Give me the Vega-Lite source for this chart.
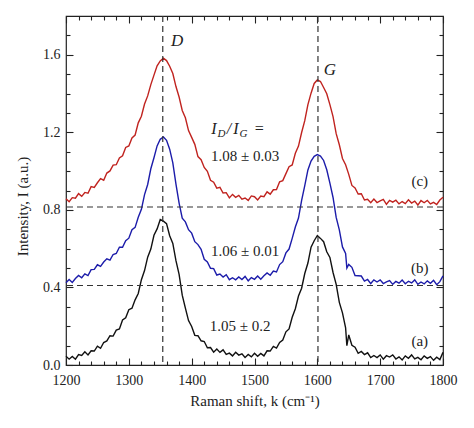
{
"$schema": "https://vega.github.io/schema/vega-lite/v6.json",
"width": 377, "height": 349,
"autosize": {"type": "none"},
"padding": {"left": 66, "top": 16, "right": 31, "bottom": 63},
"background": "white",
"config": {
 "font": "Liberation Serif",
 "view": {"stroke": "#222", "strokeWidth": 1.2},
 "axis": {"labelFont": "Liberation Serif", "labelFontSize": 14, "labelColor": "#222", "titleFont": "Liberation Serif", "titleFontSize": 15, "titleFontWeight": "normal", "titleColor": "#222", "tickColor": "#222", "tickWidth": 1.1, "grid": false, "domain": false, "labelFlush": false}
},
"datasets": {
 "spec": [
{"k":1200,"s":"a","v":0.045},{"k":1205,"s":"a","v":0.030},{"k":1210,"s":"a","v":0.044},{"k":1215,"s":"a","v":0.030},{"k":1220,"s":"a","v":0.054},{"k":1225,"s":"a","v":0.049},{"k":1230,"s":"a","v":0.068},{"k":1235,"s":"a","v":0.052},{"k":1240,"s":"a","v":0.073},{"k":1245,"s":"a","v":0.072},
{"k":1250,"s":"a","v":0.097},{"k":1255,"s":"a","v":0.086},{"k":1260,"s":"a","v":0.116},{"k":1265,"s":"a","v":0.124},{"k":1270,"s":"a","v":0.151},{"k":1275,"s":"a","v":0.149},{"k":1280,"s":"a","v":0.180},{"k":1285,"s":"a","v":0.186},{"k":1290,"s":"a","v":0.232},{"k":1295,"s":"a","v":0.244},
{"k":1300,"s":"a","v":0.285},{"k":1305,"s":"a","v":0.293},{"k":1310,"s":"a","v":0.336},{"k":1315,"s":"a","v":0.369},{"k":1320,"s":"a","v":0.440},{"k":1325,"s":"a","v":0.487},{"k":1330,"s":"a","v":0.556},{"k":1335,"s":"a","v":0.598},{"k":1340,"s":"a","v":0.669},{"k":1345,"s":"a","v":0.702},
{"k":1350,"s":"a","v":0.750},{"k":1355,"s":"a","v":0.742},{"k":1360,"s":"a","v":0.729},{"k":1365,"s":"a","v":0.667},{"k":1370,"s":"a","v":0.627},{"k":1375,"s":"a","v":0.538},{"k":1380,"s":"a","v":0.467},{"k":1385,"s":"a","v":0.360},{"k":1390,"s":"a","v":0.293},{"k":1395,"s":"a","v":0.229},
{"k":1400,"s":"a","v":0.199},{"k":1405,"s":"a","v":0.153},{"k":1410,"s":"a","v":0.151},{"k":1415,"s":"a","v":0.125},{"k":1420,"s":"a","v":0.121},{"k":1425,"s":"a","v":0.089},{"k":1430,"s":"a","v":0.090},{"k":1435,"s":"a","v":0.066},{"k":1440,"s":"a","v":0.082},{"k":1445,"s":"a","v":0.065},
{"k":1450,"s":"a","v":0.078},{"k":1455,"s":"a","v":0.055},{"k":1460,"s":"a","v":0.061},{"k":1465,"s":"a","v":0.047},{"k":1470,"s":"a","v":0.066},{"k":1475,"s":"a","v":0.051},{"k":1480,"s":"a","v":0.058},{"k":1485,"s":"a","v":0.039},{"k":1490,"s":"a","v":0.054},{"k":1495,"s":"a","v":0.042},
{"k":1500,"s":"a","v":0.061},{"k":1505,"s":"a","v":0.045},{"k":1510,"s":"a","v":0.060},{"k":1515,"s":"a","v":0.047},{"k":1520,"s":"a","v":0.073},{"k":1525,"s":"a","v":0.072},{"k":1530,"s":"a","v":0.096},{"k":1535,"s":"a","v":0.087},{"k":1540,"s":"a","v":0.116},{"k":1545,"s":"a","v":0.129},
{"k":1550,"s":"a","v":0.171},{"k":1555,"s":"a","v":0.186},{"k":1560,"s":"a","v":0.246},{"k":1565,"s":"a","v":0.290},{"k":1570,"s":"a","v":0.356},{"k":1575,"s":"a","v":0.396},{"k":1580,"s":"a","v":0.472},{"k":1585,"s":"a","v":0.526},{"k":1590,"s":"a","v":0.608},{"k":1595,"s":"a","v":0.641},
{"k":1600,"s":"a","v":0.668},{"k":1605,"s":"a","v":0.653},{"k":1610,"s":"a","v":0.636},{"k":1615,"s":"a","v":0.584},{"k":1620,"s":"a","v":0.555},{"k":1625,"s":"a","v":0.477},{"k":1630,"s":"a","v":0.416},{"k":1635,"s":"a","v":0.323},{"k":1640,"s":"a","v":0.269},{"k":1645,"s":"a","v":0.192},{"k":1647,"s":"a","v":0.100},
{"k":1650,"s":"a","v":0.155},{"k":1655,"s":"a","v":0.102},{"k":1660,"s":"a","v":0.092},{"k":1665,"s":"a","v":0.060},{"k":1670,"s":"a","v":0.070},{"k":1675,"s":"a","v":0.054},{"k":1680,"s":"a","v":0.063},{"k":1685,"s":"a","v":0.038},{"k":1690,"s":"a","v":0.049},{"k":1695,"s":"a","v":0.038},
{"k":1700,"s":"a","v":0.052},{"k":1705,"s":"a","v":0.030},{"k":1710,"s":"a","v":0.048},{"k":1715,"s":"a","v":0.041},{"k":1720,"s":"a","v":0.052},{"k":1725,"s":"a","v":0.031},{"k":1730,"s":"a","v":0.042},{"k":1735,"s":"a","v":0.026},{"k":1740,"s":"a","v":0.047},{"k":1745,"s":"a","v":0.035},
{"k":1750,"s":"a","v":0.052},{"k":1755,"s":"a","v":0.031},{"k":1760,"s":"a","v":0.039},{"k":1765,"s":"a","v":0.027},{"k":1770,"s":"a","v":0.047},{"k":1775,"s":"a","v":0.034},{"k":1780,"s":"a","v":0.043},{"k":1785,"s":"a","v":0.024},{"k":1790,"s":"a","v":0.040},{"k":1795,"s":"a","v":0.028},
{"k":1800,"s":"a","v":0.065},
{"k":1200,"s":"b","v":0.424},{"k":1205,"s":"b","v":0.441},{"k":1210,"s":"b","v":0.426},{"k":1215,"s":"b","v":0.446},{"k":1220,"s":"b","v":0.462},{"k":1225,"s":"b","v":0.450},{"k":1230,"s":"b","v":0.470},{"k":1235,"s":"b","v":0.461},{"k":1240,"s":"b","v":0.492},{"k":1245,"s":"b","v":0.493},
{"k":1250,"s":"b","v":0.517},{"k":1255,"s":"b","v":0.509},{"k":1260,"s":"b","v":0.531},{"k":1265,"s":"b","v":0.548},{"k":1270,"s":"b","v":0.541},{"k":1275,"s":"b","v":0.570},{"k":1280,"s":"b","v":0.575},{"k":1285,"s":"b","v":0.608},{"k":1290,"s":"b","v":0.607},{"k":1295,"s":"b","v":0.641},
{"k":1300,"s":"b","v":0.654},{"k":1305,"s":"b","v":0.698},{"k":1310,"s":"b","v":0.710},{"k":1315,"s":"b","v":0.762},{"k":1320,"s":"b","v":0.803},{"k":1325,"s":"b","v":0.879},{"k":1330,"s":"b","v":0.931},{"k":1335,"s":"b","v":1.012},{"k":1340,"s":"b","v":1.069},{"k":1345,"s":"b","v":1.130},
{"k":1350,"s":"b","v":1.164},{"k":1355,"s":"b","v":1.176},{"k":1360,"s":"b","v":1.159},{"k":1365,"s":"b","v":1.113},{"k":1370,"s":"b","v":1.042},{"k":1375,"s":"b","v":0.933},{"k":1380,"s":"b","v":0.835},{"k":1385,"s":"b","v":0.757},{"k":1390,"s":"b","v":0.738},{"k":1395,"s":"b","v":0.698},
{"k":1400,"s":"b","v":0.680},{"k":1405,"s":"b","v":0.636},{"k":1410,"s":"b","v":0.621},{"k":1415,"s":"b","v":0.597},{"k":1420,"s":"b","v":0.545},{"k":1425,"s":"b","v":0.532},{"k":1430,"s":"b","v":0.499},{"k":1435,"s":"b","v":0.497},{"k":1440,"s":"b","v":0.464},{"k":1445,"s":"b","v":0.469},
{"k":1450,"s":"b","v":0.454},{"k":1455,"s":"b","v":0.466},{"k":1460,"s":"b","v":0.440},{"k":1465,"s":"b","v":0.450},{"k":1470,"s":"b","v":0.439},{"k":1475,"s":"b","v":0.454},{"k":1480,"s":"b","v":0.441},{"k":1485,"s":"b","v":0.457},{"k":1490,"s":"b","v":0.434},{"k":1495,"s":"b","v":0.451},
{"k":1500,"s":"b","v":0.442},{"k":1505,"s":"b","v":0.459},{"k":1510,"s":"b","v":0.442},{"k":1515,"s":"b","v":0.460},{"k":1520,"s":"b","v":0.475},{"k":1525,"s":"b","v":0.463},{"k":1530,"s":"b","v":0.485},{"k":1535,"s":"b","v":0.480},{"k":1540,"s":"b","v":0.518},{"k":1545,"s":"b","v":0.533},
{"k":1550,"s":"b","v":0.578},{"k":1555,"s":"b","v":0.598},{"k":1560,"s":"b","v":0.653},{"k":1565,"s":"b","v":0.712},{"k":1570,"s":"b","v":0.758},{"k":1575,"s":"b","v":0.849},{"k":1580,"s":"b","v":0.925},{"k":1585,"s":"b","v":1.006},{"k":1590,"s":"b","v":1.052},{"k":1595,"s":"b","v":1.076},
{"k":1600,"s":"b","v":1.085},{"k":1605,"s":"b","v":1.078},{"k":1610,"s":"b","v":1.055},{"k":1615,"s":"b","v":1.007},{"k":1620,"s":"b","v":0.938},{"k":1625,"s":"b","v":0.864},{"k":1630,"s":"b","v":0.761},{"k":1635,"s":"b","v":0.697},{"k":1640,"s":"b","v":0.609},{"k":1645,"s":"b","v":0.575},{"k":1647,"s":"b","v":0.500},
{"k":1650,"s":"b","v":0.519},{"k":1655,"s":"b","v":0.504},{"k":1660,"s":"b","v":0.461},{"k":1665,"s":"b","v":0.460},{"k":1670,"s":"b","v":0.459},{"k":1675,"s":"b","v":0.433},{"k":1680,"s":"b","v":0.441},{"k":1685,"s":"b","v":0.420},{"k":1690,"s":"b","v":0.439},{"k":1695,"s":"b","v":0.428},
{"k":1700,"s":"b","v":0.439},{"k":1705,"s":"b","v":0.420},{"k":1710,"s":"b","v":0.429},{"k":1715,"s":"b","v":0.435},{"k":1720,"s":"b","v":0.416},{"k":1725,"s":"b","v":0.431},{"k":1730,"s":"b","v":0.422},{"k":1735,"s":"b","v":0.438},{"k":1740,"s":"b","v":0.419},{"k":1745,"s":"b","v":0.432},
{"k":1750,"s":"b","v":0.423},{"k":1755,"s":"b","v":0.439},{"k":1760,"s":"b","v":0.416},{"k":1765,"s":"b","v":0.428},{"k":1770,"s":"b","v":0.418},{"k":1775,"s":"b","v":0.434},{"k":1780,"s":"b","v":0.421},{"k":1785,"s":"b","v":0.437},{"k":1790,"s":"b","v":0.414},{"k":1795,"s":"b","v":0.430},
{"k":1800,"s":"b","v":0.460},
{"k":1200,"s":"c","v":0.858},{"k":1205,"s":"c","v":0.842},{"k":1210,"s":"c","v":0.863},{"k":1215,"s":"c","v":0.860},{"k":1220,"s":"c","v":0.884},{"k":1225,"s":"c","v":0.870},{"k":1230,"s":"c","v":0.890},{"k":1235,"s":"c","v":0.886},{"k":1240,"s":"c","v":0.920},{"k":1245,"s":"c","v":0.916},
{"k":1250,"s":"c","v":0.940},{"k":1255,"s":"c","v":0.961},{"k":1260,"s":"c","v":0.953},{"k":1265,"s":"c","v":0.990},{"k":1270,"s":"c","v":1.001},{"k":1275,"s":"c","v":1.031},{"k":1280,"s":"c","v":1.033},{"k":1285,"s":"c","v":1.068},{"k":1290,"s":"c","v":1.079},{"k":1295,"s":"c","v":1.122},
{"k":1300,"s":"c","v":1.130},{"k":1305,"s":"c","v":1.171},{"k":1310,"s":"c","v":1.186},{"k":1315,"s":"c","v":1.249},{"k":1320,"s":"c","v":1.283},{"k":1325,"s":"c","v":1.346},{"k":1330,"s":"c","v":1.388},{"k":1335,"s":"c","v":1.446},{"k":1340,"s":"c","v":1.495},{"k":1345,"s":"c","v":1.543},
{"k":1350,"s":"c","v":1.568},{"k":1355,"s":"c","v":1.582},{"k":1360,"s":"c","v":1.570},{"k":1365,"s":"c","v":1.541},{"k":1370,"s":"c","v":1.503},{"k":1375,"s":"c","v":1.436},{"k":1380,"s":"c","v":1.382},{"k":1385,"s":"c","v":1.313},{"k":1390,"s":"c","v":1.275},{"k":1395,"s":"c","v":1.209},
{"k":1400,"s":"c","v":1.174},{"k":1405,"s":"c","v":1.138},{"k":1410,"s":"c","v":1.075},{"k":1415,"s":"c","v":1.059},{"k":1420,"s":"c","v":1.019},{"k":1425,"s":"c","v":0.999},{"k":1430,"s":"c","v":0.953},{"k":1435,"s":"c","v":0.943},{"k":1440,"s":"c","v":0.912},{"k":1445,"s":"c","v":0.916},
{"k":1450,"s":"c","v":0.887},{"k":1455,"s":"c","v":0.889},{"k":1460,"s":"c","v":0.862},{"k":1465,"s":"c","v":0.880},{"k":1470,"s":"c","v":0.865},{"k":1475,"s":"c","v":0.875},{"k":1480,"s":"c","v":0.855},{"k":1485,"s":"c","v":0.861},{"k":1490,"s":"c","v":0.849},{"k":1495,"s":"c","v":0.872},
{"k":1500,"s":"c","v":0.868},{"k":1505,"s":"c","v":0.851},{"k":1510,"s":"c","v":0.871},{"k":1515,"s":"c","v":0.868},{"k":1520,"s":"c","v":0.893},{"k":1525,"s":"c","v":0.881},{"k":1530,"s":"c","v":0.904},{"k":1535,"s":"c","v":0.905},{"k":1540,"s":"c","v":0.945},{"k":1545,"s":"c","v":0.951},
{"k":1550,"s":"c","v":0.987},{"k":1555,"s":"c","v":1.023},{"k":1560,"s":"c","v":1.032},{"k":1565,"s":"c","v":1.092},{"k":1570,"s":"c","v":1.129},{"k":1575,"s":"c","v":1.199},{"k":1580,"s":"c","v":1.260},{"k":1585,"s":"c","v":1.343},{"k":1590,"s":"c","v":1.402},{"k":1595,"s":"c","v":1.452},
{"k":1600,"s":"c","v":1.470},{"k":1605,"s":"c","v":1.462},{"k":1610,"s":"c","v":1.431},{"k":1615,"s":"c","v":1.399},{"k":1620,"s":"c","v":1.343},{"k":1625,"s":"c","v":1.281},{"k":1630,"s":"c","v":1.193},{"k":1635,"s":"c","v":1.136},{"k":1640,"s":"c","v":1.065},{"k":1645,"s":"c","v":1.033},
{"k":1650,"s":"c","v":0.983},{"k":1655,"s":"c","v":0.926},{"k":1660,"s":"c","v":0.913},{"k":1665,"s":"c","v":0.882},{"k":1670,"s":"c","v":0.883},{"k":1675,"s":"c","v":0.851},{"k":1680,"s":"c","v":0.855},{"k":1685,"s":"c","v":0.837},{"k":1690,"s":"c","v":0.856},{"k":1695,"s":"c","v":0.838},
{"k":1700,"s":"c","v":0.847},{"k":1705,"s":"c","v":0.854},{"k":1710,"s":"c","v":0.829},{"k":1715,"s":"c","v":0.849},{"k":1720,"s":"c","v":0.840},{"k":1725,"s":"c","v":0.850},{"k":1730,"s":"c","v":0.831},{"k":1735,"s":"c","v":0.843},{"k":1740,"s":"c","v":0.832},{"k":1745,"s":"c","v":0.852},
{"k":1750,"s":"c","v":0.835},{"k":1755,"s":"c","v":0.845},{"k":1760,"s":"c","v":0.825},{"k":1765,"s":"c","v":0.848},{"k":1770,"s":"c","v":0.837},{"k":1775,"s":"c","v":0.849},{"k":1780,"s":"c","v":0.831},{"k":1785,"s":"c","v":0.839},{"k":1790,"s":"c","v":0.828},{"k":1795,"s":"c","v":0.851},
{"k":1800,"s":"c","v":0.865}
 ],
 "vl": [{"k": 1354}, {"k": 1601}],
 "hl": [{"v": 0.41}, {"v": 0.815}],
 "pk": [{"k": 1377, "v": 1.67, "t": "D"}, {"k": 1620, "v": 1.52, "t": "G"}],
 "ratio": [{"k": 1485, "v": 1.079, "t": "1.08 ± 0.03"}, {"k": 1485, "v": 0.588, "t": "1.06 ± 0.01"}, {"k": 1477, "v": 0.20, "t": "1.05 ± 0.2"}],
 "samp": [{"k": 1763, "v": 0.95, "t": "(c)"}, {"k": 1763, "v": 0.50, "t": "(b)"}, {"k": 1763, "v": 0.124, "t": "(a)"}],
 "idmain": [{"k": 1431, "v": 1.218, "t": "I"}, {"k": 1456, "v": 1.218, "t": "/"}, {"k": 1466, "v": 1.218, "t": "I"}, {"k": 1499, "v": 1.218, "t": "="}],
 "idsub": [{"k": 1441, "v": 1.218, "t": "D"}, {"k": 1476, "v": 1.218, "t": "G"}]
},
"layer": [
 {
  "data": {"name": "spec"},
  "mark": {"type": "line", "strokeWidth": 1.4, "interpolate": "linear"},
  "encoding": {
   "x": {"field": "k", "type": "quantitative", "scale": {"domain": [1200, 1800], "nice": false, "zero": false},
         "axis": {"orient": "bottom", "values": [1200, 1300, 1400, 1500, 1600, 1700, 1800], "format": "d", "labelFont": "Liberation Serif", "labelFontSize": 14, "tickSize": -7, "labelPadding": 15, "title": "Raman shift, k (cm⁻¹)", "titlePadding": 6}},
   "y": {"field": "v", "type": "quantitative", "scale": {"domain": [0, 1.8], "nice": false, "zero": false},
         "axis": {"orient": "left", "values": [0, 0.4, 0.8, 1.2, 1.6], "format": ".1f", "labelFont": "Liberation Serif", "labelFontSize": 14, "tickSize": -7, "labelPadding": 13, "title": "Intensity, I (a.u.)", "titleX": -44, "titleY": 190, "titleAlign": "center", "titleBaseline": "middle", "titleAngle": -90}},
   "color": {"field": "s", "type": "nominal", "scale": {"domain": ["a", "b", "c"], "range": ["#111111", "#1c1caa", "#c0231f"]}, "legend": null}
  }
 },
 {
  "data": {"name": "vl"},
  "mark": {"type": "rule", "color": "#333", "strokeDash": [6, 4], "strokeWidth": 1.2},
  "encoding": {
   "x": {"field": "k", "type": "quantitative", "scale": {"domain": [1200, 1800], "nice": false, "zero": false},
         "axis": {"orient": "bottom", "values": [1220,1240,1260,1280,1320,1340,1360,1380,1420,1440,1460,1480,1520,1540,1560,1580,1620,1640,1660,1680,1720,1740,1760,1780], "tickSize": -4, "labels": false, "title": null}}
  }
 },
 {
  "data": {"name": "hl"},
  "mark": {"type": "rule", "color": "#333", "strokeDash": [6, 4], "strokeWidth": 1.2},
  "encoding": {
   "y": {"field": "v", "type": "quantitative", "scale": {"domain": [0, 1.8], "nice": false, "zero": false},
         "axis": {"orient": "left", "values": [0.1,0.2,0.3,0.5,0.6,0.7,0.9,1.0,1.1,1.3,1.4,1.5,1.7], "tickSize": -4, "labels": false, "title": null}}
  }
 },
 {
  "data": {"name": "pk"},
  "mark": {"type": "text", "font": "Liberation Serif", "fontStyle": "italic", "fontSize": 17, "color": "#222", "align": "center", "baseline": "middle"},
  "encoding": {
   "x": {"field": "k", "type": "quantitative", "scale": {"domain": [1200, 1800], "nice": false, "zero": false},
         "axis": {"orient": "top", "values": [1200, 1300, 1400, 1500, 1600, 1700, 1800], "tickSize": -7, "labels": false, "title": null}},
   "y": {"field": "v", "type": "quantitative", "scale": {"domain": [0, 1.8], "nice": false, "zero": false},
         "axis": {"orient": "right", "values": [0, 0.4, 0.8, 1.2, 1.6], "tickSize": -7, "labels": false, "title": null}},
   "text": {"field": "t"}
  }
 },
 {
  "data": {"name": "ratio"},
  "mark": {"type": "text", "font": "Liberation Serif", "fontSize": 15, "color": "#222", "align": "center", "baseline": "middle"},
  "encoding": {
   "x": {"field": "k", "type": "quantitative", "scale": {"domain": [1200, 1800], "nice": false, "zero": false},
         "axis": {"orient": "top", "values": [1220,1240,1260,1280,1320,1340,1360,1380,1420,1440,1460,1480,1520,1540,1560,1580,1620,1640,1660,1680,1720,1740,1760,1780], "tickSize": -4, "labels": false, "title": null}},
   "y": {"field": "v", "type": "quantitative", "scale": {"domain": [0, 1.8], "nice": false, "zero": false},
         "axis": {"orient": "right", "values": [0.1,0.2,0.3,0.5,0.6,0.7,0.9,1.0,1.1,1.3,1.4,1.5,1.7], "tickSize": -4, "labels": false, "title": null}},
   "text": {"field": "t"}
  }
 },
 {
  "data": {"name": "samp"},
  "mark": {"type": "text", "font": "Liberation Serif", "fontSize": 15, "color": "#222", "align": "center", "baseline": "middle"},
  "encoding": {
   "x": {"field": "k", "type": "quantitative", "scale": {"domain": [1200, 1800], "nice": false, "zero": false}, "axis": null},
   "y": {"field": "v", "type": "quantitative", "scale": {"domain": [0, 1.8], "nice": false, "zero": false}, "axis": null},
   "text": {"field": "t"}
  }
 },
 {
  "data": {"name": "idmain"},
  "mark": {"type": "text", "font": "Liberation Serif", "fontStyle": "italic", "fontSize": 16, "color": "#222", "align": "left", "baseline": "middle"},
  "encoding": {
   "x": {"field": "k", "type": "quantitative", "scale": {"domain": [1200, 1800], "nice": false, "zero": false}, "axis": null},
   "y": {"field": "v", "type": "quantitative", "scale": {"domain": [0, 1.8], "nice": false, "zero": false}, "axis": null},
   "text": {"field": "t"}
  }
 },
 {
  "data": {"name": "idsub"},
  "mark": {"type": "text", "font": "Liberation Serif", "fontStyle": "italic", "fontSize": 11, "color": "#222", "align": "left", "baseline": "middle", "dy": 5},
  "encoding": {
   "x": {"field": "k", "type": "quantitative", "scale": {"domain": [1200, 1800], "nice": false, "zero": false}, "axis": null},
   "y": {"field": "v", "type": "quantitative", "scale": {"domain": [0, 1.8], "nice": false, "zero": false}, "axis": null},
   "text": {"field": "t"}
  }
 }
],
"resolve": {"axis": {"x": "independent", "y": "independent"}}
}
